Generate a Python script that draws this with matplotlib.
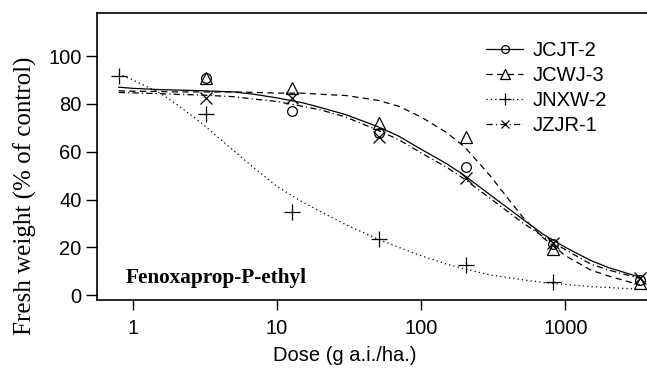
import numpy as np
import matplotlib
matplotlib.use("Agg")
import matplotlib.pyplot as plt

# observed points (dose in g a.i./ha, fresh weight % of control)
jcjt2_dose = [3.2, 12.8, 51.2, 204.8, 819.2, 3276.8]
jcjt2_obs = [91, 77, 68, 53.8, 21.5, 6.3]

jcwj3_dose = [3.2, 12.8, 51.2, 204.8, 819.2, 3276.8]
jcwj3_obs = [91, 86.6, 71.9, 66.3, 19.5, 5.2]

jnxw2_dose = [0.8, 3.2, 12.8, 51.2, 204.8, 819.2]
jnxw2_obs = [91.5, 75.8, 34.6, 23.7, 12.6, 5.6]

jzjr1_dose = [3.2, 12.8, 51.2, 204.8, 819.2, 3276.8]
jzjr1_obs = [82.4, 82.4, 66, 48.9, 22, 7]

# fitted curves
curve_dose = [0.8, 1, 1.5, 2, 3, 5, 7, 10, 15, 20, 30, 50, 70, 100, 150, 200,
              300, 500, 700, 1000, 1500, 2000, 3300]
jcjt2_fit = [87, 86.5, 86, 85.8, 85.5, 85, 84, 82.5, 80.5, 78.5, 75.5, 70.5,
             66.5, 61, 55, 50, 42, 32, 25.5, 20, 14.5, 11.5, 7.5]
jcwj3_fit = [85.5, 85.3, 85.2, 85, 85, 85, 84.8, 84.5, 84.5, 84, 83.5, 81.5,
             79, 74.5, 68, 62, 50, 33, 24, 16.5, 10.5, 8, 4.2]
jnxw2_fit = [92.5, 90, 85, 80, 72, 60.5, 53, 45.5, 39, 35, 29.5, 23.5, 20,
             16.5, 13, 11, 8.5, 6.5, 5.3, 4.5, 3.6, 3.2, 2.5]
jzjr1_fit = [84.8, 84.6, 84.3, 84, 83.7, 83, 82, 81, 79, 77.5, 74.5, 69, 65,
             59.5, 53.5, 48.5, 40.5, 30.5, 24.5, 19, 13, 10.5, 7]

labels = ["JCJT-2", "JCWJ-3", "JNXW-2", "JZJR-1"]

sans = "Liberation Sans"
serif = "Liberation Serif"

fig = plt.figure(figsize=(6.47, 3.73), dpi=100)
ax = fig.add_axes([97 / 647, 73 / 373, 560 / 647, 287 / 373])

series = [
    (jcjt2_dose, jcjt2_obs, jcjt2_fit, "-", "o", 7),
    (jcwj3_dose, jcwj3_obs, jcwj3_fit, (0, (5, 3.5)), "^", 9),
    (jnxw2_dose, jnxw2_obs, jnxw2_fit, (0, (1, 2.5)), "+", 11),
    (jzjr1_dose, jzjr1_obs, jzjr1_fit, (0, (5, 2.5, 1, 2.5)), "x", 8),
]

for (xd, yd, fit, ls, mk, ms), lab in zip(series, labels):
    ax.plot(curve_dose, fit, color="black", lw=0.9, linestyle=ls)
    ax.plot(xd, yd, linestyle="none", marker=mk, ms=ms, mfc="none",
            mec="black", mew=0.9)
    # legend proxy
    ax.plot([], [], color="black", lw=0.9, linestyle=ls, marker=mk,
            ms=ms * 0.8, mfc="none", mec="black", mew=0.9, label=lab)

ax.set_xscale("log")
ax.set_xlim(0.566, 4310)
ax.set_ylim(-2, 118)
ax.set_xticks([1, 10, 100, 1000])
ax.set_xticklabels(["1", "10", "100", "1000"])
ax.minorticks_off()
ax.set_yticks([0, 20, 40, 60, 80, 100])
ax.tick_params(axis="y", direction="out", length=8, width=1,
               labelsize=14.5, pad=3)
ax.tick_params(axis="x", direction="out", length=7.5, width=1,
               labelsize=14.5, pad=6)
for t in ax.get_xticklabels() + ax.get_yticklabels():
    t.set_fontfamily(sans)
ax.spines["right"].set_visible(False)
for s in ["left", "bottom", "top"]:
    ax.spines[s].set_linewidth(1.2)

fig.text(345 / 647, 1 - 361 / 373, "Dose (g a.i./ha.)", fontsize=14.5,
         family=sans, ha="center", va="baseline")
ax.set_ylabel("Fresh weight (% of control)", fontsize=18, family=serif)
ax.yaxis.set_label_coords(-0.108, 0.362)

ax.text(0.893, 5, "Fenoxaprop-P-ethyl", fontsize=15.3, family=serif,
        fontweight="bold", ha="left", va="baseline")

leg = ax.legend(loc="upper left", bbox_to_anchor=(486 / 647, 1 - 41 / 373),
                bbox_transform=fig.transFigure, frameon=False,
                handlelength=1.85, handletextpad=0.45, labelspacing=0.3,
                borderpad=0, borderaxespad=0,
                prop={"family": sans, "size": 14.5})

fig.savefig("out.png", dpi=100)
